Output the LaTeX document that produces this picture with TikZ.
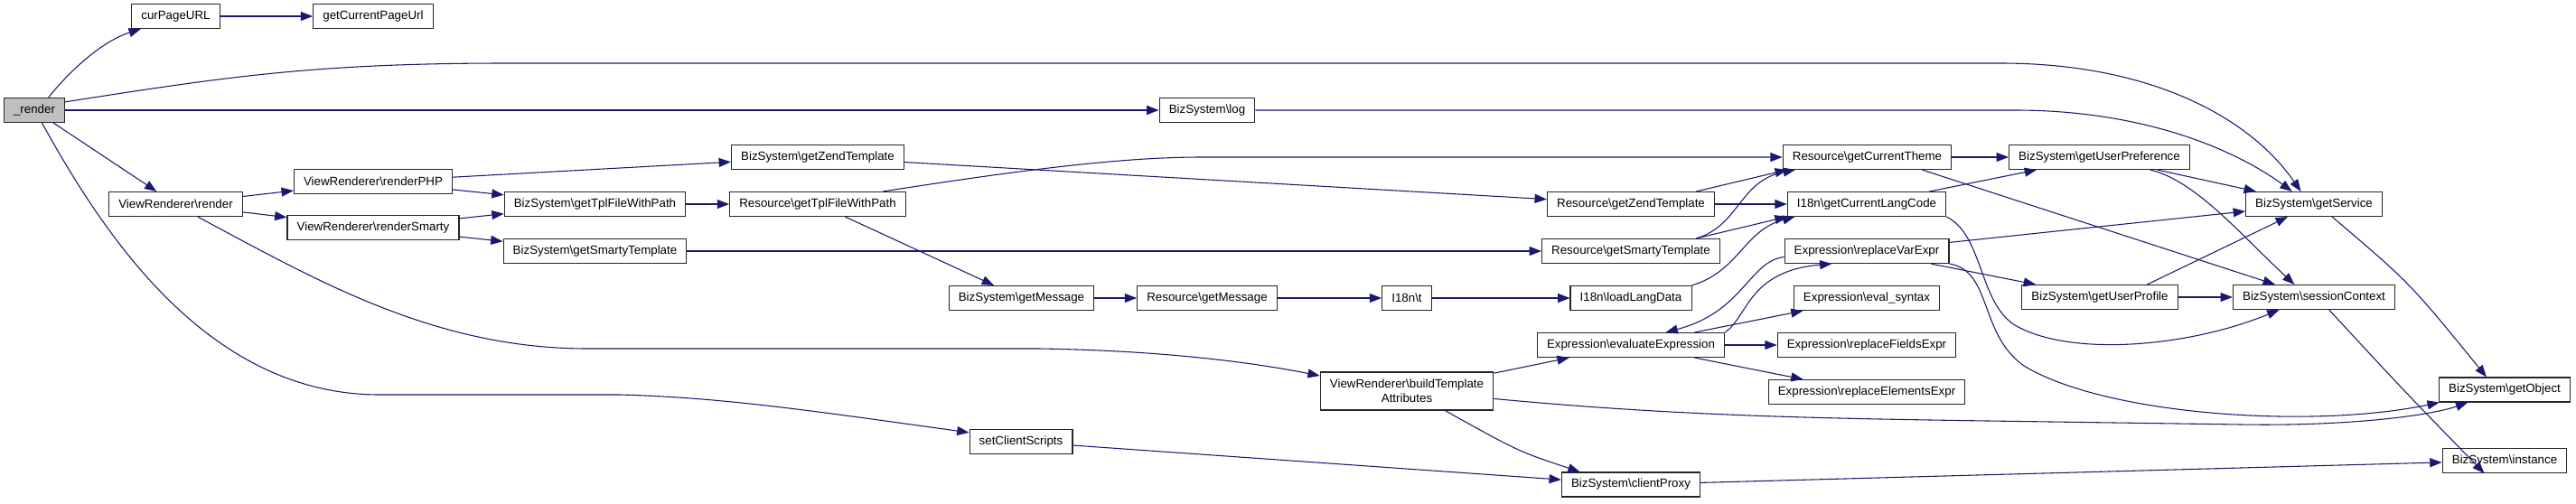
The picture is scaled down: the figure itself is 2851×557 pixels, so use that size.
\documentclass[tikz,border=0pt]{standalone}
\usepackage{fontspec}
\setmainfont{Liberation Sans}
\usetikzlibrary{arrows.meta}
\definecolor{edgeblue}{HTML}{191970}
\definecolor{rootgray}{HTML}{BFBFBF}
\newlength{\BoxHeight}
\newlength{\BoxPad}
\setlength{\BoxHeight}{20.25pt}
\setlength{\BoxPad}{8pt}
\newcommand{\bksl}{\textbackslash}
\tikzset{
  call node/.style={draw=black!85, line width=0.8pt, rectangle, minimum height=\BoxHeight,
    inner xsep=\BoxPad, inner ysep=2pt, font=\fontsize{10}{11.75}\selectfont},
  root node/.style={call node, fill=rootgray},
  call edge/.style={->, draw=edgeblue, line width=0.8pt},
}

\begin{document}
\begin{tikzpicture}[
  x=0.75pt, y=-0.75pt,
  >={Triangle[length=10pt,width=7.5pt]}
]
  \useasboundingbox (0,0) rectangle (2851,557);

  \node[root node] (render) at (38,122) {\_render};
  \node[call node] (curPageURL) at (194.5,18) {curPageURL};
  \node[call node] (getCurPageUrl) at (413,18) {getCurrentPageUrl};
  \node[call node] (vrRender) at (194.5,226) {ViewRenderer\bksl render};
  \node[call node] (renderPHP) at (413,201) {ViewRenderer\bksl renderPHP};
  \node[call node] (renderSmarty) at (413,252) {ViewRenderer\bksl renderSmarty};
  \node[call node] (bsZendTpl) at (905,174) {BizSystem\bksl getZendTemplate};
  \node[call node] (bsTplPath) at (658.5,226) {BizSystem\bksl getTplFileWithPath};
  \node[call node] (resTplPath) at (905,226) {Resource\bksl getTplFileWithPath};
  \node[call node] (bsSmartyTpl) at (658.5,278) {BizSystem\bksl getSmartyTemplate};
  \node[call node] (bsLog) at (1336,122) {BizSystem\bksl log};
  \node[call node] (bsMessage) at (1130.5,330) {BizSystem\bksl getMessage};
  \node[call node] (resMessage) at (1336,330) {Resource\bksl getMessage};
  \node[call node] (i18nT) at (1557,330) {I18n\bksl t};
  \node[call node, minimum height=31.5pt, align=center] (buildAttr) at (1557,433)
    {ViewRenderer\bksl buildTemplate\\Attributes};
  \node[call node] (setClient) at (1130,489) {setClientScripts};
  \node[call node] (resZendTpl) at (1805,226) {Resource\bksl getZendTemplate};
  \node[call node] (resSmartyTpl) at (1805,278) {Resource\bksl getSmartyTemplate};
  \node[call node] (loadLang) at (1805,330) {I18n\bksl loadLangData};
  \node[call node] (evalExpr) at (1805,382) {Expression\bksl evaluateExpression};
  \node[call node] (clientProxy) at (1805,536.5) {BizSystem\bksl clientProxy};
  \node[call node] (resTheme) at (2066.5,174) {Resource\bksl getCurrentTheme};
  \node[call node] (langCode) at (2066,226) {I18n\bksl getCurrentLangCode};
  \node[call node] (replVar) at (2066,278) {Expression\bksl replaceVarExpr};
  \node[call node] (evalSyntax) at (2066,330) {Expression\bksl eval\_syntax};
  \node[call node] (replFields) at (2066,382) {Expression\bksl replaceFieldsExpr};
  \node[call node] (replElem) at (2066,434) {Expression\bksl replaceElementsExpr};
  \node[call node] (userPref) at (2323.5,174) {BizSystem\bksl getUserPreference};
  \node[call node] (userProfile) at (2324,329) {BizSystem\bksl getUserProfile};
  \node[call node] (getService) at (2561,226) {BizSystem\bksl getService};
  \node[call node] (sessionCtx) at (2561,329) {BizSystem\bksl sessionContext};
  \node[call node] (getObject) at (2772,431.5) {BizSystem\bksl getObject};
  \node[call node] (instance) at (2772,510) {BizSystem\bksl instance};

  % calls made by _render
  \draw[call edge] (render.42) .. controls (80,75) and (115,45) .. (curPageURL.200);
  \draw[call edge] (curPageURL) -- (getCurPageUrl);
  \draw[call edge] (render.15) .. controls (250,85) and (350,70) .. (560,70) -- (2214,70)
    .. controls (2380,70) and (2490,130) .. (getService.136);
  \draw[call edge] (render) -- (bsLog);
  \draw[call edge] (bsLog) -- (2230,122) .. controls (2380,122) and (2480,170) .. (getService.150);
  \draw[call edge] (render) -- (vrRender);
  \draw[call edge] (render.-59) .. controls (115,260) and (230,437) .. (420,437) -- (686,437)
    .. controls (800,440) and (900,455) .. (setClient.170);

  % view renderer
  \draw[call edge] (vrRender) -- (renderPHP);
  \draw[call edge] (vrRender) -- (renderSmarty);
  \draw[call edge] (vrRender.-30) .. controls (350,310) and (480,386) .. (650,386) -- (1150,386)
    .. controls (1280,388) and (1380,400) .. (buildAttr.170);
  \draw[call edge] (renderPHP) -- (bsZendTpl);
  \draw[call edge] (renderPHP) -- (bsTplPath);
  \draw[call edge] (renderSmarty) -- (bsTplPath);
  \draw[call edge] (renderSmarty) -- (bsSmartyTpl);
  \draw[call edge] (bsTplPath) -- (resTplPath);
  \draw[call edge] (bsZendTpl) -- (resZendTpl);
  \draw[call edge] (resTplPath.11) .. controls (1150,185) and (1250,174) .. (1330,174) -- (resTheme);
  \draw[call edge] (resTplPath) -- (bsMessage);
  \draw[call edge] (bsSmartyTpl) -- (resSmartyTpl);

  % messages and language
  \draw[call edge] (bsMessage) -- (resMessage);
  \draw[call edge] (resMessage) -- (i18nT);
  \draw[call edge] (i18nT) -- (loadLang);
  \draw[call edge] (loadLang.north east) .. controls (1925,300) and (1930,255) .. (langCode.190);
  \draw[call edge] (resZendTpl.11) -- (resTheme.189);
  \draw[call edge] (resZendTpl) -- (langCode);
  \draw[call edge] (resSmartyTpl.11) .. controls (1925,250) and (1925,200) .. (resTheme.190);
  \draw[call edge] (resSmartyTpl.11) -- (langCode.189);
  \draw[call edge] (resTheme) -- (userPref);
  \draw[call edge] (resTheme.-13) -- (sessionCtx);
  \draw[call edge] (langCode) -- (userPref);
  \draw[call edge] (langCode.south east) .. controls (2195,260) and (2190,335) .. (2230,360)
    .. controls (2290,395) and (2420,385) .. (sessionCtx.200);

  % expressions
  \draw[call edge] (replVar) -- (getService);
  \draw[call edge] (replVar) -- (userProfile);
  \draw[call edge] (replVar.184) .. controls (1935,290) and (1930,345) .. (evalExpr.20);
  \draw[call edge] (replVar.south east) .. controls (2205,300) and (2190,370) .. (2240,405)
    .. controls (2330,460) and (2560,475) .. (getObject.191);
  \draw[call edge] (evalExpr.north east) .. controls (1935,350) and (1935,300) .. (replVar.200);
  \draw[call edge] (evalExpr) -- (evalSyntax);
  \draw[call edge] (evalExpr) -- (replFields);
  \draw[call edge] (evalExpr) -- (replElem);
  \draw[call edge] (buildAttr) -- (evalExpr);
  \draw[call edge] (buildAttr.-5) .. controls (1850,460) and (2000,463) .. (2200,466) -- (2480,470)
    .. controls (2600,472) and (2690,460) .. (getObject.199);
  \draw[call edge] (buildAttr.-27) .. controls (1681,500) .. (clientProxy.166);
  \draw[call edge] (setClient) -- (clientProxy);
  \draw[call edge] (clientProxy) -- (instance);

  % biz system
  \draw[call edge] (userPref) -- (getService);
  \draw[call edge] (userPref.-14) .. controls (2430,200) and (2480,260) .. (sessionCtx.147);
  \draw[call edge] (userProfile.15) -- (getService);
  \draw[call edge] (userProfile) -- (sessionCtx);
  \draw[call edge] (getService.-35) .. controls (2667,313) .. (getObject.145);
  \draw[call edge] (sessionCtx.-40) .. controls (2659,431) .. (instance.212);
\end{tikzpicture}
\end{document}
